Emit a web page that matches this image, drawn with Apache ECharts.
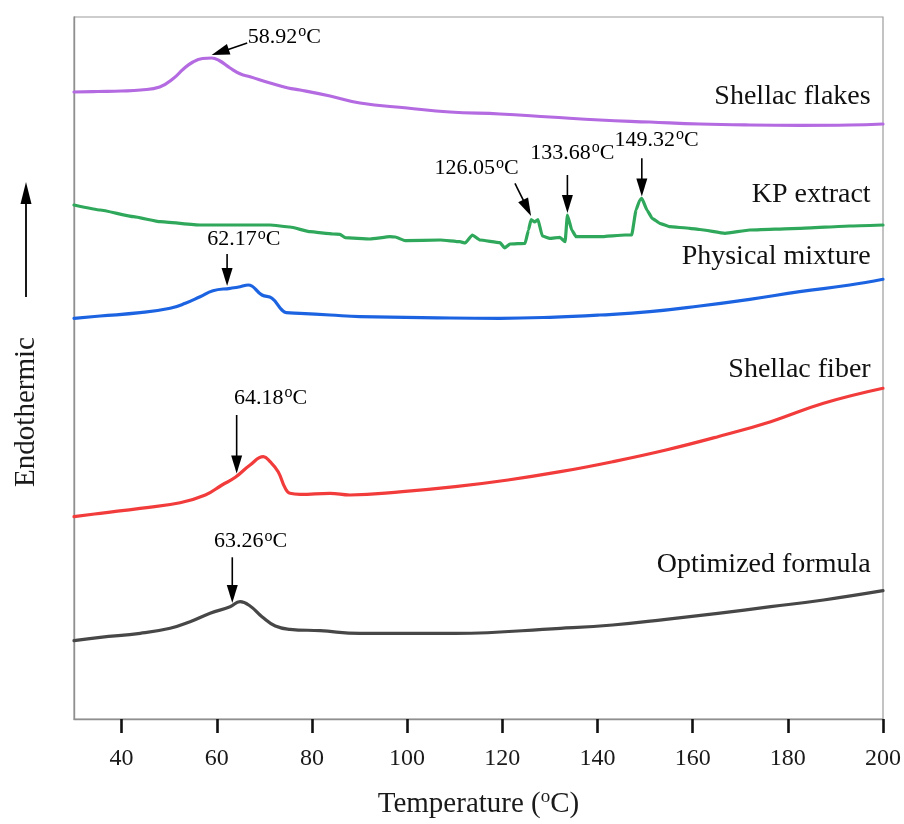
<!DOCTYPE html>
<html>
<head>
<meta charset="utf-8">
<title>DSC thermograms</title>
<script src="https://cdn.jsdelivr.net/npm/echarts@6/dist/echarts.min.js"></script>
<style>
  html, body { margin: 0; padding: 0; background: #ffffff; }
  #chart { width: 904px; height: 824px; }
</style>
</head>
<body>
<div id="chart"></div>
<script>
// ---- Data: DSC heat-flow traces (temperature in °C, heat flow in arbitrary offset units) ----
const xTickValues = [40, 60, 80, 100, 120, 140, 160, 180, 200];

const seriesNames = ['Shellac flakes', 'KP extract', 'Physical mixture', 'Shellac fiber', 'Optimized formula'];

const shellacFlakes = [
  [30, 627], [35, 627.5], [40, 628], [44, 629], [48, 632], [51, 641], [53, 650], [55, 657],
  [57, 660.5], [58.92, 661], [60.5, 658.5], [62.8, 651], [65, 645], [67, 642.3], [71.2, 636],
  [75, 631], [77.5, 629], [83.8, 623], [90.1, 616], [100, 611], [109, 607], [119.5, 605],
  [130, 602], [140.5, 599], [151, 597], [161.5, 595], [172, 594], [182.5, 593.7], [193, 594], [200, 595]
];

const kpExtract = [
  [30, 514], [35.5, 509], [42.5, 502.3], [48.1, 497.3], [56.5, 494], [65, 494], [71.2, 494],
  [75.4, 492], [79.6, 487.3], [84.4, 485], [85.9, 484.7], [87, 481.3], [92.2, 480], [96.4, 482.3],
  [97.5, 482], [99.6, 478.3], [107, 479], [111.1, 477.3], [112.2, 476], [113.7, 484], [115.3, 479],
  [119.5, 476.3], [120.5, 471], [121.6, 475], [124.8, 475.7], [125.5, 489], [126.05, 499.5],
  [126.8, 497], [127.5, 499.5], [128.4, 483], [130, 480.7], [132.1, 481.7], [133.2, 477.3],
  [133.68, 504], [134.6, 489], [135.5, 482.3], [140.5, 482.3], [145.8, 484], [147.2, 484],
  [148.1, 509], [148.9, 519], [149.32, 520.7], [150.4, 509], [151.5, 500.7], [153.1, 495.7],
  [155.2, 492.3], [159.4, 490.7], [161.5, 489.5], [166.8, 485.7], [172, 489], [182.5, 490.7],
  [193, 493], [200, 494]
];

const physicalMixture = [
  [30, 400.7], [35.5, 403], [43.9, 406.3], [50.2, 410.7], [53.4, 415.7], [56.5, 422.3],
  [59.2, 428.3], [62.8, 430.7], [64.9, 432.3], [66.6, 434], [69.5, 424], [71.6, 420.7],
  [73.7, 409], [74.6, 406.3], [77.5, 405.7], [83.8, 404], [90.1, 402.3], [109, 401],
  [119.5, 400.7], [130, 401.7], [140.5, 404], [151, 407.3], [161.5, 413], [172, 419.7],
  [182.5, 427.3], [193, 434], [200, 439.7]
];

const shellacFiber = [
  [30, 202.3], [35.5, 205.7], [43.9, 210.7], [52.3, 216.3], [57.6, 224], [61.1, 234],
  [63.9, 241.7], [67, 254], [69.8, 262.3], [71.2, 257.3], [72.9, 247.3], [74.4, 230.7],
  [75.4, 225.7], [77.5, 224.7], [83.8, 225.7], [88, 224], [99, 227.3], [110.1, 232.3],
  [121.2, 239], [132.2, 247.3], [143.2, 257.3], [154.4, 269], [165.3, 282.3], [176.4, 297.3],
  [187.5, 315.7], [200, 330.7]
];

const optimizedFormula = [
  [30, 78.3], [35.5, 81.7], [43.9, 85.7], [50.2, 90.7], [54.4, 97.3], [58.6, 105.7],
  [62.8, 112.3], [64.9, 117.3], [67, 113], [69.5, 102.3], [72.3, 93], [75.4, 89.7],
  [81.7, 88.3], [90.1, 85.7], [110.1, 85.7], [132.2, 90.7], [143.2, 94], [154.4, 99.7],
  [165.3, 105.7], [176.4, 112.3], [187.5, 119], [200, 128.3]
];

// Annotated peak temperatures (°C)
const peakTemps = [58.92, 126.05, 133.68, 149.32, 62.17, 64.18, 63.26];

// ---- Layout of annotations (positions in axis units) ----
// tailT: x of the arrow tail (null = vertical arrow), tailV/tipV: heights, label: anchor of the text
const annotationLayout = [
  { tailT: 66.4,   tailV: 676,   tipV: 664,   labelT: 74.2,  labelV: 682 },
  { tailT: 122.66, tailV: 535.7, tipV: 503,   labelT: 114.6, labelV: 550.7 },
  { tailT: null,   tailV: 544,   tipV: 506,   labelT: 134.7, labelV: 566 },
  { tailT: null,   tailV: 560.7, tipV: 522.5, labelT: 152.4, labelV: 579 },
  { tailT: null,   tailV: 465,   tipV: 433,   labelT: 65.7,  labelV: 479.7 },
  { tailT: null,   tailV: 304,   tipV: 245.5, labelT: 71.3,  labelV: 321 },
  { tailT: null,   tailV: 161.7, tipV: 116,   labelT: 67.1,  labelV: 177.3 }
];
const nameLayout = { t: 197.4, v: [622, 524, 462, 349, 154] };

const colors = ['#b46ae0', '#2fa85b', '#1c63e2', '#f23b3b', '#474747'];
const FONT = "'Liberation Serif', 'DejaVu Serif', serif";

const traces = [shellacFlakes, kpExtract, physicalMixture, shellacFiber, optimizedFormula];

const lineSeries = traces.map((d, i) => ({
  name: seriesNames[i],
  type: 'line',
  data: d,
  showSymbol: false,
  smooth: i === 1 ? 0.12 : 0.45,
  smoothMonotone: i === 1 ? 'x' : undefined,
  lineStyle: { color: colors[i], width: 3.2, join: 'round', cap: 'round' },
  itemStyle: { color: colors[i] },
  silent: true,
  z: 3
}));

const arrowData = peakTemps.map((t, i) => {
  const L = annotationLayout[i];
  return [L.tailT === null ? t : L.tailT, L.tailV, t, L.tipV];
});

const arrowSeries = {
  type: 'custom',
  name: 'arrows',
  data: arrowData,
  silent: true,
  clip: false,
  z: 5,
  renderItem: function (params, api) {
    const a = api.coord([api.value(0), api.value(1)]);
    const b = api.coord([api.value(2), api.value(3)]);
    const dx = b[0] - a[0], dy = b[1] - a[1];
    const len = Math.sqrt(dx * dx + dy * dy);
    const ux = dx / len, uy = dy / len;
    const hl = 18, hw = 5.5;
    const base = [b[0] - ux * hl, b[1] - uy * hl];
    return {
      type: 'group',
      children: [
        { type: 'line', shape: { x1: a[0], y1: a[1], x2: base[0] + ux * 2, y2: base[1] + uy * 2 },
          style: { stroke: '#000', lineWidth: 1.6 } },
        { type: 'polygon',
          shape: { points: [[b[0], b[1]], [base[0] - uy * hw, base[1] + ux * hw], [base[0] + uy * hw, base[1] - ux * hw]] },
          style: { fill: '#000' } }
      ]
    };
  }
};

const supRich = {
  n: { fontFamily: FONT, fontSize: 22, color: '#1a1a1a', lineHeight: 26 },
  s: { fontFamily: FONT, fontSize: 16, color: '#1a1a1a', verticalAlign: 'top', lineHeight: 26, padding: [0, 0, 0, 1] }
};

const peakLabelSeries = {
  type: 'custom',
  name: 'peak labels',
  data: peakTemps.map((t, i) => [annotationLayout[i].labelT, annotationLayout[i].labelV, t]),
  silent: true,
  clip: false,
  z: 6,
  renderItem: function (params, api) {
    const p = api.coord([api.value(0), api.value(1)]);
    const t = api.value(2);
    return {
      type: 'text',
      x: p[0], y: p[1],
      style: {
        text: '{n|' + t.toFixed(2) + '}{s|o}{n|C}',
        rich: supRich,
        align: 'center',
        verticalAlign: 'middle'
      }
    };
  }
};

const nameSeries = {
  type: 'custom',
  name: 'trace names',
  data: seriesNames.map((n, i) => [nameLayout.t, nameLayout.v[i], i]),
  silent: true,
  clip: false,
  z: 6,
  renderItem: function (params, api) {
    const p = api.coord([api.value(0), api.value(1)]);
    return {
      type: 'text',
      x: p[0], y: p[1],
      style: {
        text: seriesNames[api.value(2)],
        font: "28px " + FONT,
        fill: '#111',
        align: 'right',
        verticalAlign: 'middle'
      }
    };
  }
};

const chart = echarts.init(document.getElementById('chart'), null, { renderer: 'canvas' });

chart.setOption({
  animation: false,
  backgroundColor: '#ffffff',
  grid: {
    left: 74, right: 20, top: 17, bottom: 105,
    show: true, borderColor: '#9c9c9c', borderWidth: 1.2, backgroundColor: 'transparent'
  },
  xAxis: {
    type: 'value',
    min: 30, max: 200,
    axisLine: { show: true, lineStyle: { color: '#8f8f8f', width: 1.4 } },
    axisTick: { show: true, customValues: xTickValues, length: 14, inside: false,
      lineStyle: { color: '#111', width: 2.6 } },
    axisLabel: { show: true, customValues: xTickValues, margin: 28,
      fontFamily: FONT, fontSize: 24, color: '#1a1a1a' },
    splitLine: { show: false },
    name: 'Temperature ({s|o}C)',
    nameLocation: 'middle',
    nameGap: 69,
    nameTextStyle: {
      fontFamily: FONT, fontSize: 29, color: '#1a1a1a',
      rich: { s: { fontFamily: FONT, fontSize: 19, color: '#1a1a1a', verticalAlign: 'top', lineHeight: 32 } }
    }
  },
  yAxis: {
    type: 'value',
    min: 0, max: 702,
    axisLine: { show: true, lineStyle: { color: '#8f8f8f', width: 1.4 } },
    axisTick: { show: false },
    axisLabel: { show: false },
    splitLine: { show: false }
  },
  graphic: [
    { type: 'text', x: 26, y: 412, rotation: Math.PI / 2,
      style: { text: 'Endothermic', font: "29px " + FONT, fill: '#1a1a1a', align: 'center', verticalAlign: 'middle' } },
    { type: 'line', shape: { x1: 26, y1: 297, x2: 26, y2: 200 }, style: { stroke: '#000', lineWidth: 1.8 } },
    { type: 'polygon', shape: { points: [[26, 182], [20.5, 204], [31.5, 204]] }, style: { fill: '#000' } }
  ],
  series: lineSeries.concat([arrowSeries, peakLabelSeries, nameSeries])
});
</script>
</body>
</html>
